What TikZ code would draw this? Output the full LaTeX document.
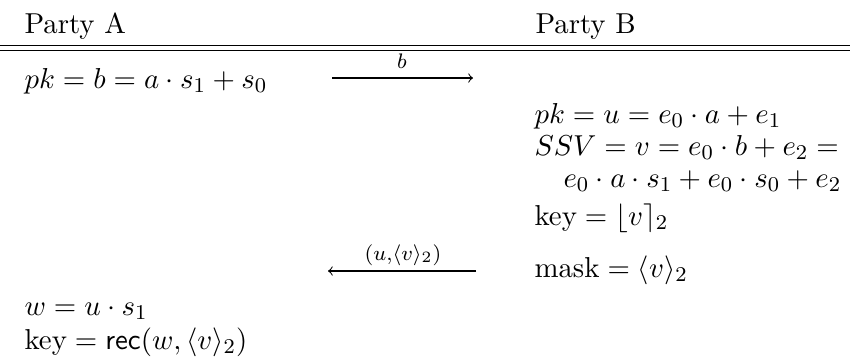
\documentclass[11pt,tikz,border=0pt]{standalone}
\usepackage{amsmath}
\begin{document}
\begin{tikzpicture}[x=0.38pt,y=-0.38pt,
  txt/.style={anchor=base west,inner sep=0pt},
  lbl/.style={anchor=base,inner sep=0pt},
  rulestyle/.style={line width=0.4pt},
  msg/.style={line width=0.4pt,->}]
\useasboundingbox (0,0) rectangle (850,356);
% double rule
\coordinate (ra1) at (0,45.5);  \coordinate (ra2) at (850,45.5);
\coordinate (rb1) at (0,50.8);  \coordinate (rb2) at (850,50.8);
\draw[rulestyle] (ra1) -- (ra2);
\draw[rulestyle] (rb1) -- (rb2);
% headers
\node[txt] (pa) at (24,33) {Party A};
\node[txt] (pb) at (535,33) {Party B};
% party A, first row
\node[txt] (a1) at (24,88) {$pk = b = a\cdot s_1 + s_0$};
\coordinate (m1s) at (332,78);
\coordinate (m1e) at (473,78);
\draw[msg] (m1s) -- (m1e);
\node[lbl] (l1) at (402,68) {$\scriptstyle b$};
% party B
\node[txt] (b1) at (534,123) {$pk = u = e_0\cdot a + e_1$};
\node[txt] (b2) at (534,155) {$SSV = v = e_0\cdot b + e_2 =$};
\node[txt] (b3) at (563,187) {$e_0\cdot a\cdot s_1 + e_0\cdot s_0 + e_2$};
\node[txt] (b4) at (534,225) {$\text{key} = \lfloor v\rceil_2$};
\node[txt] (b5) at (534,277) {$\text{mask} = \langle v\rangle_2$};
\coordinate (m2s) at (476,271);
\coordinate (m2e) at (328,271);
\draw[msg] (m2s) -- (m2e);
\node[lbl] (l2) at (403,260) {$\scriptstyle (u,\langle v\rangle_2)$};
% party A, final rows
\node[txt] (a2) at (24,315) {$w = u\cdot s_1$};
\node[txt] (a3) at (24,349) {$\text{key} = \mathsf{rec}(w,\langle v\rangle_2)$};
\end{tikzpicture}
\end{document}
